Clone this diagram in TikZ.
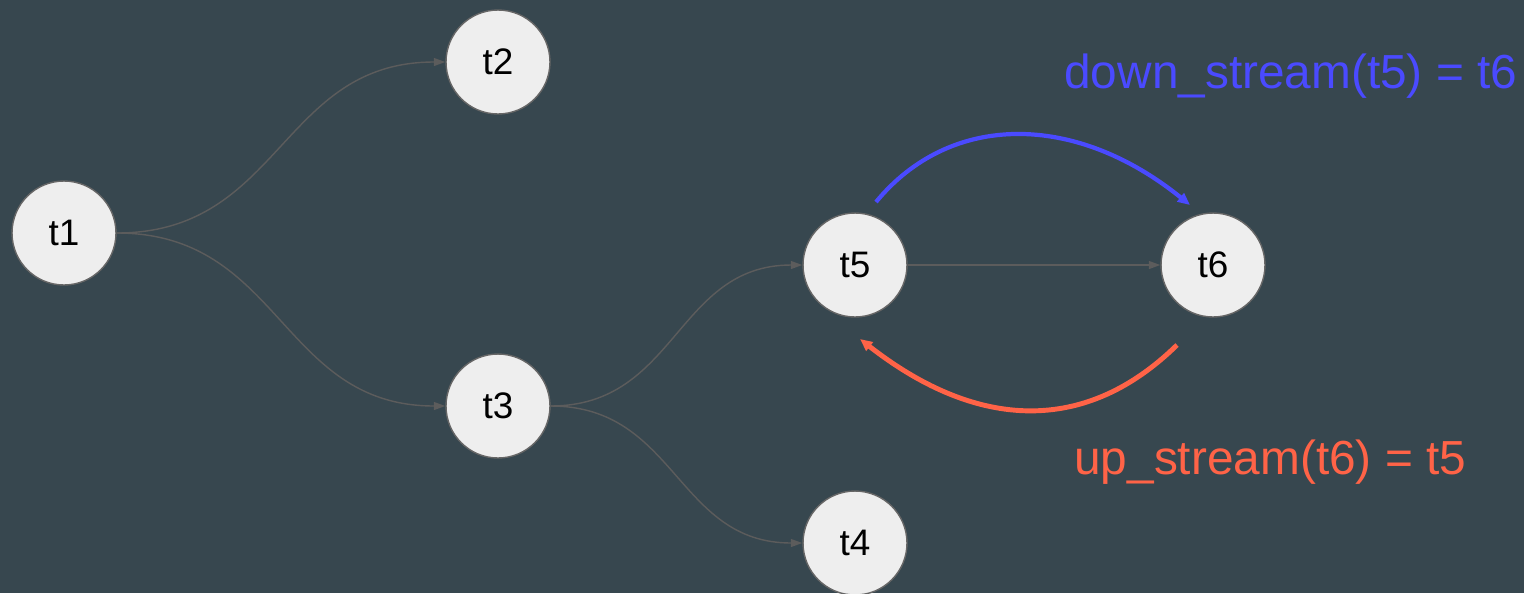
\documentclass[tikz,border=0pt]{standalone}
\usepackage{fontspec}
\setmainfont{Liberation Sans}
\usetikzlibrary{arrows.meta}
\definecolor{bg}{HTML}{37474F}
\definecolor{nodefill}{HTML}{EEEEEE}
\definecolor{nodeline}{HTML}{666666}
\definecolor{edgegray}{HTML}{5C5C5C}
\definecolor{downblue}{HTML}{4A4AFF}
\definecolor{upred}{HTML}{FF6347}
\begin{document}
\begin{tikzpicture}[x=0.02cm,y=-0.02cm,
  task/.style={circle,fill=nodefill,draw=nodeline,line width=0.8pt,
    minimum size=2.08cm,inner sep=0pt,font=\fontsize{21}{21}\selectfont},
  flow/.style={draw=edgegray,line width=0.8pt,
    -{Triangle[length=6.5pt,width=4.5pt]}},
  relblue/.style={draw=downblue,line width=2.4pt,
    -{Triangle[length=7pt,width=6pt]}},
  relred/.style={draw=upred,line width=2.8pt,
    -{Triangle[length=7pt,width=6pt]}},
  rellabel/.style={anchor=base west,inner sep=0pt,
    font=\fontsize{27.2}{27.2}\selectfont}]
  \fill[bg] (0,0) rectangle (1524,593);
  \useasboundingbox (0,0) rectangle (1524,593);

  % tasks
  \node[task] (t1) at (64,233) {t1};
  \node[task] (t2) at (498,62) {t2};
  \node[task] (t3) at (498,406) {t3};
  \node[task] (t5) at (855,265) {t5};
  \node[task] (t6) at (1213,265) {t6};
  \node[task] (t4) at (855,543) {t4};

  % dependency edges
  \draw[flow] (t1.east) .. controls +(165,0) and +(-165,0) .. (t2.west);
  \draw[flow] (t1.east) .. controls +(165,0) and +(-165,0) .. (t3.west);
  \draw[flow] (t3.east) .. controls +(126,0) and +(-126,0) .. (t5.west);
  \draw[flow] (t3.east) .. controls +(126,0) and +(-126,0) .. (t4.west);
  \draw[flow] (t5.east) -- (t6.west);

  % relation arrows
  \coordinate (dsStart) at (876,202);
  \coordinate (dsEnd) at (1190,205);
  \coordinate (usStart) at (1177,345);
  \coordinate (usEnd) at (860,339);
  \draw[relblue] (dsStart) .. controls (950,112) and (1075,112) .. (dsEnd);
  \draw[relred] (usStart) .. controls (1080,440) and (970,425) .. (usEnd);

  % relation labels
  \node[rellabel,text=downblue] (downlbl) at (1064,88) {down\_stream(t5) = t6};
  \node[rellabel,text=upred] (uplbl) at (1074,474) {up\_stream(t6) = t5};
\end{tikzpicture}
\end{document}
